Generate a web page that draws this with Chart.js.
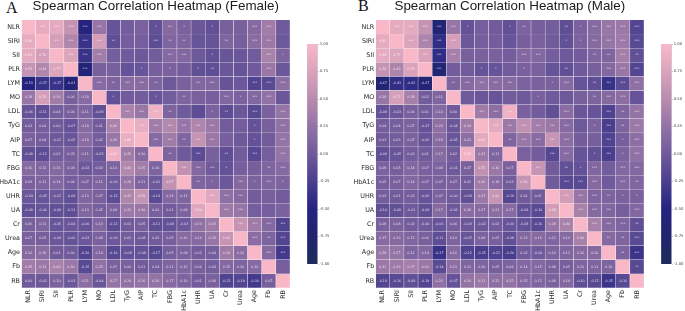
<!DOCTYPE html>
<html>
<head>
<meta charset="utf-8">
<script src="https://cdn.jsdelivr.net/npm/chart.js@4"></script>
<style>
  body { margin: 0; background: #fff; width: 685px; height: 311px; overflow: hidden; position: relative; }
  canvas { position: absolute; top: 0; filter: blur(0.3px); }
  .letter { position: absolute; font: 16px "Liberation Serif"; color: #111; }
</style>
</head>
<body>
<div class="letter" style="left:6px;top:-1px">A</div>
<div class="letter" style="left:358px;top:-3px">B</div>
<canvas id="femaleMap" width="342" height="311" style="left:0"></canvas>
<canvas id="femaleBar" width="30" height="311" style="left:300.7px"></canvas>
<canvas id="maleMap" width="343" height="311" style="left:342px"></canvas>
<canvas id="maleBar" width="30" height="311" style="left:655px"></canvas>
<script>
const markers = ["NLR","SIRI","SII","PLR","LYM","MO","LDL","TyG","AIP","TC","FBG","HbA1c","UHR","UA","Cr","Urea","Age","Fb","RB"];
const barTicks = [-1,-0.75,-0.5,-0.25,0,0.25,0.5,0.75,1];

// lower triangle
const femaleValues = [
  [],
  [0.86],
  [0.83,0.70],
  [0.59,0.44,0.77],
  [-0.53,-0.37,-0.37,-0.63],
  [0.28,0.70,0.36,0.06,0.18],
  [-0.06,-0.11,0.04,0.06,0.11,-0.09],
  [0.03,0.04,0.00,-0.07,0.18,0.01,0.40],
  [0.07,0.04,-0.02,-0.05,0.19,0.02,0.29,0.88],
  [-0.09,-0.12,0.02,0.05,0.11,-0.05,0.92,0.35,0.16],
  [0.16,0.12,0.16,0.08,-0.02,0.03,0.10,0.46,0.35,0.10],
  [0.08,0.11,0.14,0.04,0.07,0.11,-0.004,0.28,0.11,-0.01,0.57],
  [-0.04,-0.05,-0.02,-0.09,0.13,0.07,-0.12,0.43,0.59,-0.14,0.14,0.11],
  [-0.09,-0.06,-0.09,-0.11,0.13,0.05,0.08,0.31,0.30,0.06,0.01,0.09,0.80],
  [0.06,0.11,-0.05,-0.04,-0.06,0.13,-0.12,0.01,0.05,-0.11,-0.08,-0.03,0.23,0.33],
  [0.07,0.05,-0.04,-0.06,-0.03,0.08,-0.03,0.03,-0.01,0.02,0.05,0.16,0.16,0.28,0.60],
  [0.16,0.19,0.01,0.00,-0.20,0.14,-0.16,-0.08,-0.08,-0.17,0.05,0.09,0.02,0.04,0.34,0.20],
  [0.35,0.31,0.40,0.30,-0.15,0.25,0.07,0.06,0.01,0.04,0.11,0.12,0.06,0.04,0.15,0.10,0.16],
  [0.00,-0.02,0.10,-0.03,0.21,-0.04,0.27,0.24,0.26,0.26,0.17,0.10,0.01,0.08,-0.21,-0.19,-0.30,0.05]
];
const maleValues = [
  [],
  [0.85],
  [0.84,0.77],
  [0.59,0.42,0.75],
  [-0.67,-0.41,-0.42,-0.67],
  [0.28,0.71,0.38,0.02,0.11],
  [-0.08,-0.03,0.06,0.01,0.16,0.00],
  [0.04,0.04,0.07,-0.07,0.23,-0.04,0.34],
  [0.01,0.03,0.07,-0.06,0.18,-0.05,0.21,0.83],
  [-0.09,-0.05,0.03,0.01,0.17,0.02,0.93,0.31,0.11],
  [0.09,0.05,0.14,0.07,0.09,-0.01,0.07,0.55,0.30,0.07],
  [0.05,0.07,0.14,0.07,0.07,0.07,0.02,0.36,0.18,0.02,0.59],
  [0.03,0.01,0.03,-0.06,0.07,-0.004,-0.09,0.31,0.60,-0.18,0.01,0.01],
  [-0.10,-0.09,-0.01,-0.09,0.17,-0.02,0.19,0.17,0.21,0.17,-0.09,-0.16,0.69],
  [0.08,0.08,0.02,-0.004,-0.06,0.06,-0.04,-0.02,0.02,-0.06,-0.08,-0.16,0.28,0.40],
  [0.17,0.16,0.12,0.06,-0.11,0.10,-0.05,0.09,0.05,-0.09,0.13,0.16,0.12,0.16,0.40],
  [0.29,0.27,0.11,0.14,-0.37,0.16,-0.22,-0.25,-0.22,-0.26,0.02,-0.004,0.10,0.12,0.16,0.16],
  [0.31,0.33,0.37,0.30,-0.14,0.21,0.11,0.10,0.05,0.09,0.14,0.15,0.08,0.05,0.11,0.11,0.10],
  [-0.19,-0.16,-0.09,-0.19,0.23,-0.07,0.26,0.31,0.22,0.25,0.15,0.12,0.08,0.14,-0.10,-0.15,-0.35,-0.16]
];
// upper triangle, number of stars in each cell right of the diagonal
const femaleStars = ["333330001310100330","33332003220020330","3330000330100031","300010101200030","32332003300333","1001020031330","333200120303","33333300103","3323300103","203020303","33310023","2103131","333000","33000","3333","323","33","0"];
const maleStars = ["333331001200213333","33330000000113333","3330000330002232","300110100200333","23333001302333","0000010002330","333000300323","33333301323","2333300313","003301313","30213033","0333032","333211","33303","3332","223","23","2"];

// colormap stops, value -> rgb
const stops = [
  [-1, [30,44,92]],
  [-0.75, [33,37,110]],
  [-0.5, [37,35,128]],
  [-0.25, [74,63,143]],
  [0, [112,90,155]],
  [0.25, [146,114,165]],
  [0.5, [185,140,174]],
  [0.75, [219,163,187]],
  [1, [248,184,200]]
];

function colorOf(v){
  for (var i = 1; i < stops.length; i++) {
    if (v <= stops[i][0]) {
      var a = stops[i-1], b = stops[i];
      var t = (v - a[0]) / (b[0] - a[0]);
      var c = a[1].map(function(x, k){ return Math.round(x + (b[1][k] - x) * t); });
      return "rgb(" + c.join(",") + ")";
    }
  }
  return "rgb(248,184,200)";
}

function cellValue(values, r, c){
  if (r === c) return 1;
  return r > c ? values[r][c] : values[c][r];
}

// writes the number or stars over each bar tile
const cellText = {
  id: "cellText",
  afterDatasetsDraw(chart){
    var o = chart.options.plugins.cellText;
    var ctx = chart.ctx;
    ctx.save();
    ctx.font = '3.3px "DejaVu Sans"';
    ctx.fillStyle = "rgba(255,255,255,0.8)";
    ctx.textAlign = "center";
    ctx.textBaseline = "middle";
    chart.data.datasets.forEach(function(ds, r){
      chart.getDatasetMeta(r).data.forEach(function(el, c){
        if (r === c) return;
        var s = r > c ? o.values[r][c].toFixed(2) : "*".repeat(+o.stars[r][c - r - 1]);
        ctx.fillText(s, el.x, (el.y + el.base) / 2);
      });
    });
    ctx.restore();
  }
};

function drawMap(id, title, values, stars, leftW, rightPad){
  var datasets = markers.map(function(name, r){
    return {
      label: name,
      data: markers.map(function(){ return 1; }),
      backgroundColor: markers.map(function(m, c){ return colorOf(cellValue(values, r, c)); }),
      borderColor: "rgba(255,255,255,0.35)",
      borderWidth: 0.5,
      barPercentage: 1,
      categoryPercentage: 1,
      yAxisID: "y"
    };
  });
  new Chart(document.getElementById(id), {
    type: "bar",
    data: { labels: markers, datasets: datasets },
    plugins: [cellText],
    options: {
      responsive: false,
      animation: false,
      layout: { padding: { right: rightPad } },
      plugins: {
        legend: { display: false },
        tooltip: { enabled: false },
        cellText: { values: values, stars: stars },
        title: {
          display: true,
          text: title,
          fullSize: false,
          color: "#1a1a1a",
          font: { family: "Liberation Sans", size: 13.4, weight: "normal", lineHeight: 1 },
          padding: { top: 0, bottom: 6.6 }
        }
      },
      scales: {
        x: {
          stacked: true,
          grid: { display: false, drawTicks: false },
          border: { display: false },
          afterFit(s){ s.height = 23; },
          ticks: { color: "#2a2a2a", font: { family: "DejaVu Sans", size: 6.4 }, minRotation: 90, maxRotation: 90, padding: 2, autoSkip: false }
        },
        y: { stacked: true, display: false, min: 0, max: markers.length, reverse: true },
        names: {
          axis: "y",
          type: "category",
          position: "left",
          labels: markers,
          offset: true,
          grid: { display: false, drawTicks: false },
          border: { display: false },
          afterFit(s){ s.width = leftW; },
          ticks: { color: "#2a2a2a", font: { family: "DejaVu Sans", size: 6.4 }, padding: 1.5, autoSkip: false }
        }
      }
    }
  });
}

function drawBar(id){
  new Chart(document.getElementById(id), {
    type: "bar",
    data: {
      labels: ["r"],
      datasets: [{
        data: [[barTicks[0], barTicks[barTicks.length - 1]]],
        barPercentage: 1,
        categoryPercentage: 1,
        borderColor: "rgba(150,140,190,0.6)",
        borderWidth: 0.5,
        backgroundColor(c){
          var area = c.chart.chartArea;
          if (!area) return "#fff";
          var g = c.chart.ctx.createLinearGradient(0, area.bottom, 0, area.top);
          stops.forEach(function(s){ g.addColorStop((s[0] + 1) / 2, colorOf(s[0])); });
          return g;
        }
      }]
    },
    options: {
      responsive: false,
      animation: false,
      layout: { padding: { left: 6, top: 44, bottom: 47 } },
      plugins: { legend: { display: false }, tooltip: { enabled: false } },
      scales: {
        x: { display: false },
        y: {
          position: "right",
          min: -1, max: 1,
          grid: { drawOnChartArea: false, tickLength: 1.5, color: "#777", lineWidth: 0.4 },
          border: { display: false },
          afterFit(s){ s.width = 13.3; },
          afterBuildTicks(s){ s.ticks = barTicks.map(function(v){ return { value: v }; }); },
          ticks: {
            color: "#444",
            font: { family: "DejaVu Sans", size: 3.8 },
            padding: 0.5,
            callback(v){ return v.toFixed(2); }
          }
        }
      }
    }
  });
}

drawMap("femaleMap", "Spearman Correlation Heatmap (Female)", femaleValues, femaleStars, 21.5, 52);
drawMap("maleMap", "Spearman Correlation Heatmap (Male)", maleValues, maleStars, 33.7, 41);
drawBar("femaleBar");
drawBar("maleBar");
</script>
</body>
</html>
